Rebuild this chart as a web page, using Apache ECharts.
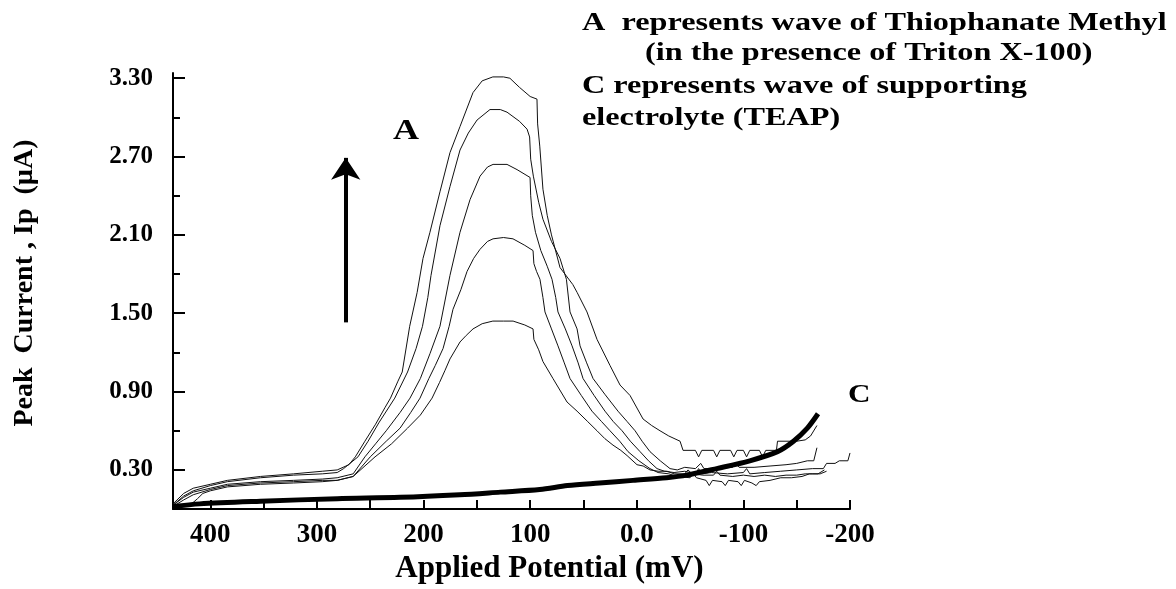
<!DOCTYPE html>
<html>
<head>
<meta charset="utf-8">
<script src="https://cdn.jsdelivr.net/npm/echarts@6/dist/echarts.min.js"></script>
<style>
  html, body { margin: 0; padding: 0; background: #fff; }
  #chart { width: 1176px; height: 589px; }
</style>
</head>
<body>
<div id="chart"></div>
<script>
// ---- Data (Applied Potential mV, Peak Current µA) ----
const xLabelTicks = [400, 300, 200, 100, 0, -100, -200];
const xAllTicks = [400, 350, 300, 250, 200, 150, 100, 50, 0, -50, -100, -150, -200];
const yMajorTicks = [0.3, 0.9, 1.5, 2.1, 2.7, 3.3];
const yMinorTicks = [0.6, 1.2, 1.8, 2.4, 3.0];

// Wave A, five concentrations (lowest to highest)
const waveA1 = [[419,0.03],[412,0.08],[407,0.12],[400,0.14],[384,0.17],[353,0.19],[322,0.20],[295,0.21],[281,0.22],[266,0.25],[245.5,0.40],[230,0.50],[215,0.62],[203,0.72],[192,0.85],[185,0.97],[180,1.06],[175.2,1.15],[165.8,1.28],[160,1.33],[153.6,1.38],[145,1.42],[135,1.44],[125,1.44],[116,1.44],[105,1.41],[97.3,1.38],[96.5,1.30],[92,1.22],[88,1.13],[78.6,1.00],[65.4,0.82],[56,0.75],[46,0.67],[37.3,0.60],[30,0.54],[22.3,0.49],[15,0.45],[9.1,0.41],[-0.2,0.34],[-6,0.33],[-12.4,0.30],[-20,0.29],[-28.4,0.29],[-35,0.27],[-45,0.27],[-48,0.30],[-52,0.27],[-62,0.26],[-72,0.26],[-75,0.29],[-78,0.26],[-90,0.25],[-100,0.26],[-110,0.25],[-120,0.26],[-130,0.25],[-140,0.26],[-150,0.26],[-158,0.27],[-165,0.27],[-172,0.27],[-178,0.29]];
const waveA2 = [[435,0.02],[425,0.07],[416,0.11],[400,0.15],[384,0.18],[353,0.20],[322,0.21],[295,0.22],[281,0.22],[266,0.25],[250,0.40],[235,0.52],[222,0.62],[212,0.74],[203.3,0.85],[195,1.00],[189,1.10],[181.7,1.23],[176,1.40],[172.4,1.53],[165,1.68],[159.2,1.82],[153,1.92],[147,1.99],[140,2.05],[134.8,2.07],[125,2.08],[116.1,2.07],[105,2.02],[97.3,1.98],[96.5,1.88],[94,1.82],[90.8,1.76],[88,1.62],[86.1,1.51],[80,1.38],[73.9,1.25],[68,1.12],[62.6,1.00],[52,0.87],[42,0.75],[33,0.67],[25.1,0.60],[16,0.52],[8.2,0.44],[-2,0.37],[-12.4,0.31],[-20,0.28],[-30,0.27],[-38,0.25],[-50,0.24],[-53,0.27],[-56,0.24],[-65,0.22],[-68,0.18],[-71,0.22],[-80,0.21],[-83,0.18],[-86,0.22],[-95,0.21],[-98,0.18],[-101,0.22],[-108,0.20],[-112,0.18],[-115,0.21],[-125,0.22],[-135,0.24],[-145,0.24],[-155,0.25],[-162,0.27],[-170,0.27],[-176,0.30]];
const waveA3 = [[435,0.03],[425,0.09],[416,0.13],[400,0.16],[384,0.19],[353,0.21],[322,0.22],[295,0.23],[281,0.24],[266,0.27],[255,0.40],[245,0.50],[235,0.60],[222,0.74],[212.7,0.85],[203,1.00],[194,1.19],[184.6,1.40],[175.2,1.79],[165.8,2.12],[156.4,2.37],[147,2.55],[140,2.62],[134.8,2.64],[121.7,2.64],[112.3,2.60],[100.1,2.54],[99.5,2.40],[98,2.25],[95,2.12],[90,1.98],[84,1.86],[79.5,1.76],[76,1.62],[73.9,1.51],[67,1.38],[60.7,1.25],[55,1.12],[50.4,1.00],[40,0.87],[29.8,0.75],[22,0.67],[13.8,0.60],[6,0.52],[-3.1,0.44],[-11,0.37],[-19,0.31],[-26,0.29],[-35,0.28],[-45,0.29],[-55,0.27],[-58,0.31],[-61,0.27],[-70,0.28],[-85,0.27],[-100,0.28],[-103,0.31],[-106,0.27],[-120,0.28],[-135,0.29],[-150,0.30],[-165,0.31],[-175,0.31],[-178,0.35],[-186,0.35],[-190,0.37],[-198,0.37],[-200,0.43]];
const waveA4 = [[435,0.03],[425,0.10],[416,0.14],[400,0.18],[384,0.21],[353,0.24],[322,0.26],[295,0.27],[281,0.28],[275,0.31],[261.5,0.40],[252,0.52],[242,0.66],[227,0.85],[215,1.05],[207,1.23],[201,1.40],[196,1.62],[193,1.79],[184.6,2.17],[175.2,2.47],[165.8,2.75],[158,2.88],[149.8,2.98],[137.7,3.06],[128,3.06],[121.7,3.04],[110,2.97],[102.9,2.91],[100.5,2.85],[99.5,2.68],[97,2.55],[92,2.35],[88,2.22],[80,2.05],[72,1.92],[66,1.76],[62.6,1.51],[56,1.38],[53.2,1.25],[47,1.12],[41,1.00],[30,0.88],[17.6,0.75],[9,0.67],[1.6,0.60],[-5,0.52],[-12.4,0.44],[-22,0.37],[-31.2,0.31],[-38,0.30],[-45,0.32],[-55,0.31],[-60,0.35],[-63,0.31],[-75,0.31],[-90,0.32],[-93,0.35],[-96,0.32],[-110,0.32],[-125,0.33],[-140,0.34],[-150,0.35],[-160,0.37],[-166,0.37],[-169,0.47]];
const waveA5 = [[435,0.04],[425,0.12],[416,0.16],[400,0.19],[384,0.22],[353,0.25],[322,0.27],[295,0.29],[281,0.30],[270,0.34],[264,0.40],[255,0.52],[245,0.65],[236,0.78],[231,0.85],[224,0.98],[220,1.05],[213,1.40],[206,1.66],[200.5,1.92],[194,2.12],[184.6,2.43],[175.2,2.73],[165.8,2.93],[153.6,3.19],[145,3.28],[135,3.31],[125,3.31],[119,3.30],[110,3.23],[100,3.16],[93.6,3.14],[93,2.95],[91,2.78],[88,2.45],[84,2.25],[80,2.10],[72,1.85],[60,1.72],[56,1.66],[46.7,1.51],[37.3,1.30],[25.1,1.10],[15.7,0.95],[6.3,0.87],[-5.9,0.69],[-14,0.64],[-21.8,0.60],[-30,0.56],[-40.6,0.52],[-43.4,0.45],[-55,0.45],[-58,0.40],[-61,0.45],[-72,0.45],[-75,0.40],[-78,0.45],[-88,0.45],[-91,0.40],[-94,0.45],[-100,0.45],[-103,0.40],[-106,0.45],[-115,0.45],[-118,0.40],[-121,0.45],[-131,0.45],[-132,0.52],[-150,0.52],[-158,0.53],[-163,0.56],[-169,0.64]];

// Wave C, supporting electrolyte (TEAP)
const waveC = [[435,0.02],[410,0.04],[353,0.06],[281,0.08],[222,0.09],[166,0.11],[128,0.13],[91,0.15],[65,0.18],[35,0.20],[3.5,0.22],[-28,0.24],[-47,0.26],[-75,0.31],[-106,0.37],[-132,0.44],[-147,0.52],[-160,0.62],[-170,0.73]];

// Arrow showing increasing concentration
const arrowFrom = [273, 1.43];
const arrowTo = [273, 2.69];

const FONT = '"Liberation Serif", "Times New Roman", serif';

const chart = echarts.init(document.getElementById('chart'), null, { renderer: 'canvas' });

function thinLine(name, data) {
  return {
    name: name, type: 'line', data: data, showSymbol: false, symbol: 'none',
    xAxisIndex: 0, yAxisIndex: 0, silent: true, animation: false,
    lineStyle: { color: '#111', width: 1 }
  };
}

const option = {
  backgroundColor: '#ffffff',
  animation: false,
  grid: { left: 173, right: 326, top: 73, bottom: 78, containLabel: false },
  xAxis: [
    {
      type: 'value', inverse: true, min: -200, max: 435,
      name: 'Applied Potential (mV)', nameLocation: 'middle', nameGap: 41,
      nameTextStyle: { fontFamily: FONT, fontWeight: 'bold', fontSize: 31, color: '#000', padding: [0, 0, 0, 76] },
      axisLine: { show: true, onZero: false, lineStyle: { color: '#000', width: 2 } },
      axisTick: { show: true, inside: true, length: 9, lineStyle: { color: '#000', width: 2 }, customValues: xAllTicks },
      axisLabel: { customValues: xLabelTicks, margin: 12, fontFamily: FONT, fontWeight: 'bold', fontSize: 27, color: '#000',
        formatter: function (v) { return v === 0 ? '0.0' : String(v); } },
      splitLine: { show: false }
    }
  ],
  yAxis: [
    {
      type: 'value', min: 0, max: 3.34,
      name: 'Peak  Current , Ip  (µA)', nameLocation: 'middle', nameGap: 134, nameRotate: 90,
      nameTextStyle: { fontFamily: FONT, fontWeight: 'bold', fontSize: 28, color: '#000', padding: [0, 0, 0, 16] },
      axisLine: { show: true, onZero: false, lineStyle: { color: '#000', width: 2 } },
      axisTick: { show: true, inside: true, length: 12, lineStyle: { color: '#000', width: 2 }, customValues: yMajorTicks },
      axisLabel: { customValues: yMajorTicks, margin: 20, fontFamily: FONT, fontWeight: 'bold', fontSize: 25, color: '#000',
        formatter: function (v) { return v.toFixed(2); } },
      splitLine: { show: false }
    },
    {
      type: 'value', min: 0, max: 3.34, position: 'left',
      axisLine: { show: false, onZero: false },
      axisTick: { show: true, inside: true, length: 7, lineStyle: { color: '#000', width: 2 }, customValues: yMinorTicks },
      axisLabel: { show: false },
      splitLine: { show: false }
    }
  ],
  series: [
    thinLine('A1', waveA1),
    thinLine('A2', waveA2),
    thinLine('A3', waveA3),
    thinLine('A4', waveA4),
    thinLine('A5', waveA5),
    {
      name: 'C', type: 'line', data: waveC, showSymbol: false, symbol: 'none', smooth: 0.3,
      silent: true, animation: false,
      lineStyle: { color: '#000', width: 5 },
      markLine: {
        silent: true, animation: false,
        symbol: ['none', 'arrow'], symbolSize: [22, 22],
        label: { show: false },
        lineStyle: { color: '#000', width: 4, type: 'solid' },
        data: [[{ coord: arrowFrom }, { coord: arrowTo }]]
      }
    }
  ],
  graphic: [
    { type: 'text', x: 582, y: 24, scaleX: 1.29, style: { text: 'A  represents wave of Thiophanate Methyl', font: 'bold 25px ' + FONT, fill: '#000', textVerticalAlign: 'middle', verticalAlign: 'middle' } },
    { type: 'text', x: 645, y: 54, scaleX: 1.29, style: { text: '(in the presence of Triton X-100)', font: 'bold 25px ' + FONT, fill: '#000', textVerticalAlign: 'middle', verticalAlign: 'middle' } },
    { type: 'text', x: 582, y: 87, scaleX: 1.29, style: { text: 'C represents wave of supporting', font: 'bold 25px ' + FONT, fill: '#000', textVerticalAlign: 'middle', verticalAlign: 'middle' } },
    { type: 'text', x: 582, y: 119, scaleX: 1.29, style: { text: 'electrolyte (TEAP)', font: 'bold 25px ' + FONT, fill: '#000', textVerticalAlign: 'middle', verticalAlign: 'middle' } },
    { type: 'text', x: 393, y: 131, scaleX: 1.2, style: { text: 'A', font: 'bold 30px ' + FONT, fill: '#000', textVerticalAlign: 'middle', verticalAlign: 'middle' } },
    { type: 'text', x: 848, y: 395, scaleX: 1.2, style: { text: 'C', font: 'bold 26px ' + FONT, fill: '#000', textVerticalAlign: 'middle', verticalAlign: 'middle' } }
  ]
};

chart.setOption(option);
</script>
</body>
</html>
